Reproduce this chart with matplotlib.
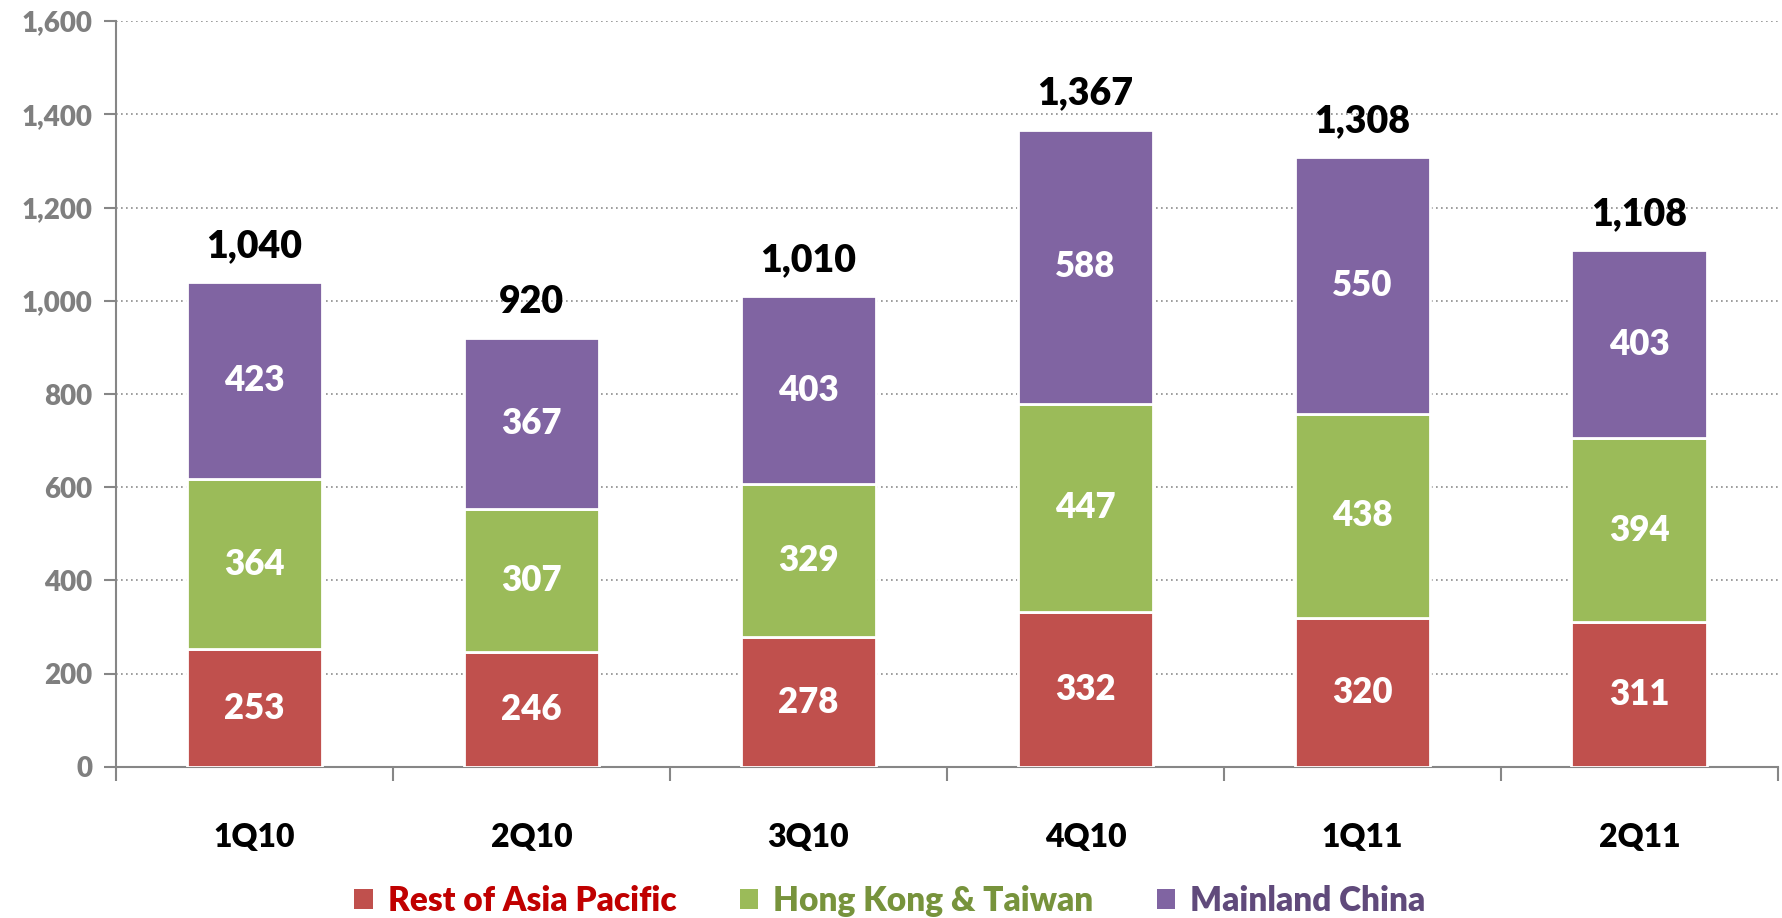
import numpy as np
import matplotlib
matplotlib.use("Agg")
import matplotlib.pyplot as plt
from matplotlib.patches import Patch
from matplotlib.ticker import FuncFormatter, FixedLocator

plt.rcParams['font.family'] = ['Lato', 'DejaVu Sans']
plt.rcParams['font.weight'] = 'heavy'

quarters = ["1Q10", "2Q10", "3Q10", "4Q10", "1Q11", "2Q11"]
rest_asia = [253, 246, 278, 332, 320, 311]
hk_taiwan = [364, 307, 329, 447, 438, 394]
mainland = [423, 367, 403, 588, 550, 403]
series_names = ["Rest of Asia Pacific", "Hong Kong & Taiwan", "Mainland China"]

bar_colors = ["#C0504D", "#9BBB59", "#8064A2"]
text_colors = ["#C00000", "#77933C", "#604A7B"]
axis_gray = "#868686"
W = "heavy"

fig = plt.figure(figsize=(17.83, 9.18), dpi=100)
ax = fig.add_axes([0.0651, 0.1645, 0.932, 0.8126])

x = np.arange(len(quarters))
bottom = np.zeros(len(quarters))
for vals, col in zip([rest_asia, hk_taiwan, mainland], bar_colors):
    ax.bar(x, vals, width=0.49, bottom=bottom, color=col,
           edgecolor="white", linewidth=2, zorder=3)
    for xi, b, v in zip(x, bottom, vals):
        ax.text(xi, b + v / 2, f"{v}", ha="center", va="center",
                color="white", fontsize=25, fontweight=W, zorder=4)
    bottom = bottom + np.array(vals)

# totals above each stack
for xi, tot in zip(x, bottom):
    ax.annotate(f"{int(tot):,}", (xi, tot), xytext=(0, 26),
                textcoords="offset points", ha="center", va="center",
                fontsize=27, fontweight=W, color="black")

ax.set_xlim(-0.5, len(quarters) - 0.5)
ax.set_ylim(0, 1600)
ax.set_yticks(range(0, 1601, 200))
ax.yaxis.set_major_formatter(FuncFormatter(lambda v, p: f"{int(v):,}"))
ax.tick_params(axis="y", labelsize=20, labelcolor="#7F7F7F", color=axis_gray,
               length=9, width=1.5, pad=8)

ax.xaxis.set_major_locator(FixedLocator(np.arange(-0.5, len(quarters), 1)))
ax.xaxis.set_minor_locator(FixedLocator(x))
ax.set_xticklabels([], minor=False)
ax.set_xticklabels(quarters, minor=True)
ax.tick_params(axis="x", which="major", length=10, width=1.5, color=axis_gray)
ax.tick_params(axis="x", which="minor", length=0, labelsize=23, pad=40,
               labelcolor="black")
for lab in ax.get_xticklabels(minor=True) + ax.get_yticklabels():
    lab.set_fontweight(W)

ax.yaxis.grid(True, linestyle=(0, (1, 2)), color="#8C8C8C", linewidth=1.2, zorder=0)
ax.set_axisbelow(True)
for s in ["top", "right"]:
    ax.spines[s].set_visible(False)
for s in ["left", "bottom"]:
    ax.spines[s].set_color(axis_gray)
    ax.spines[s].set_linewidth(1.5)

handles = [Patch(facecolor=c, edgecolor="none") for c in bar_colors]
leg = fig.legend(handles, series_names, loc="center", bbox_to_anchor=(0.499, 0.019),
                 ncol=3, frameon=False, fontsize=24, handlelength=0.55,
                 handleheight=0.55, handletextpad=0.45, columnspacing=1.9,
                 borderpad=0.2)
for t, c in zip(leg.get_texts(), text_colors):
    t.set_color(c)
    t.set_fontweight(W)

fig.savefig("out.png", dpi=100)
